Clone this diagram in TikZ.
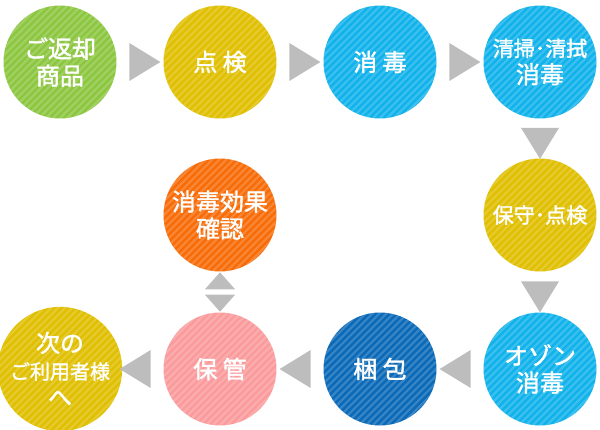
\documentclass[tikz,border=0pt]{standalone}
\usepackage{fontspec}
\setmainfont{Noto Sans CJK JP}
\newfontfamily\jpmed{Noto Sans CJK JP}[FakeBold=1.6]
\usepackage{tikz}
\usetikzlibrary{calc,positioning,shapes.geometric}
\definecolor{stepgreen}{HTML}{8CC63F}
\definecolor{stepyellow}{HTML}{E0BF00}
\definecolor{stepcyan}{HTML}{0FB2EB}
\definecolor{stepblue}{HTML}{0A69B8}
\definecolor{steppink}{HTML}{FB9A9C}
\definecolor{steporange}{HTML}{F86C08}
\definecolor{arrowgray}{HTML}{BDBDBD}
\tikzset{
  stepnode/.style={circle, minimum size=113pt, inner sep=0pt, text=white, align=center,
    font=\jpmed\fontsize{24}{27}\selectfont,
    path picture={
      \foreach \k in {-126,-119,...,126}
        \draw[white, opacity=.18, line width=2.2pt]
          ([xshift=\k pt]path picture bounding box.south west) -- ++(130pt,130pt);
    }},
  arrowtri/.style={isosceles triangle, isosceles triangle stretches, fill=arrowgray,
    inner sep=0pt, minimum width=38pt, minimum height=31pt},
  smalltri/.style={isosceles triangle, isosceles triangle stretches, fill=arrowgray,
    inner sep=0pt, minimum width=30pt, minimum height=17pt}
}
\begin{document}
\begin{tikzpicture}[x=1pt, y=-1pt]
  \useasboundingbox (0,0) rectangle (600,429);
  % top row
  \node[stepnode, fill=stepgreen]  (returned) at (60,62)  {ご返却\\商品};
  \node[stepnode, fill=stepyellow] (check)    at (220,62) {点 検};
  \node[stepnode, fill=stepcyan]   (disinf)   at (380,62) {消 毒};
  \node[stepnode, fill=stepcyan]   (clean)    at (540,62) {{\fontsize{21}{27}\selectfont 清掃･清拭}\\消毒};
  % middle row
  \node[stepnode, fill=stepyellow] (maint)    at (540,215) {{\fontsize{21}{27}\selectfont 保守･点検}};
  \node[stepnode, fill=steporange] (effect)   at (220,215) {消毒効果\\確認};
  % bottom row
  \node[stepnode, fill=stepcyan]   (ozone)    at (540,369) {オゾン\\消毒};
  \node[stepnode, fill=stepblue]   (pack)     at (380,369) {梱 包};
  \node[stepnode, fill=steppink]   (store)    at (220,369) {保 管};
  \node[stepnode, fill=stepyellow] (next)     at (60,369)  {次の\\{\fontsize{20}{27}\selectfont ご利用者様}\\へ};

  % arrows
  \node[arrowtri] (a1) at ($(returned)!.5!(check)$) {};
  \node[arrowtri] (a2) at ($(check)!.5!(disinf)$) {};
  \node[arrowtri] (a3) at ($(disinf)!.5!(clean)$) {};
  \node[arrowtri, rotate=-90] (a4) at ($(clean)!.5!(maint)$) {};
  \node[arrowtri, rotate=-90] (a5) at ($(maint)!.5!(ozone)$) {};
  \node[arrowtri, rotate=180] (a6) at ($(ozone)!.5!(pack)$) {};
  \node[arrowtri, rotate=180] (a7) at ($(pack)!.5!(store)$) {};
  \node[arrowtri, rotate=180] (a8) at ($(store)!.5!(next)$) {};
  \coordinate (mid) at ($(effect)!.5!(store)$);
  \node[smalltri, rotate=90]  (up)   at ([yshift=9.5pt]mid) {};
  \node[smalltri, rotate=-90] (down) at ([yshift=-9.5pt]mid) {};
\end{tikzpicture}
\end{document}
